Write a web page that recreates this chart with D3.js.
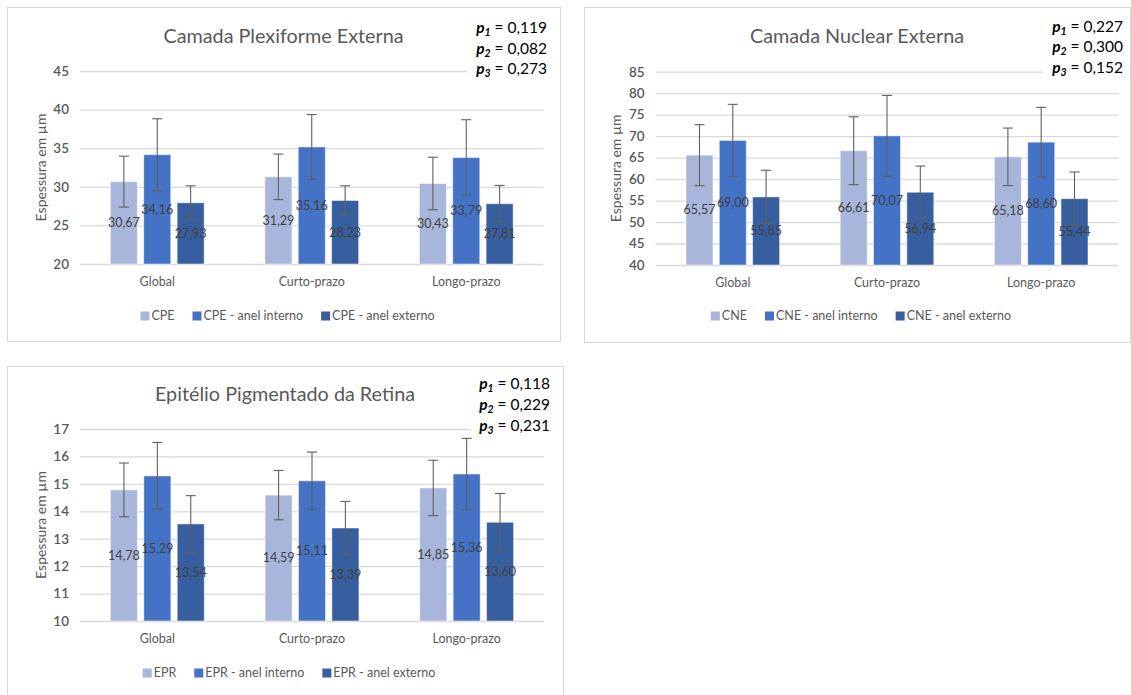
<!DOCTYPE html>
<html>
<head>
<meta charset="utf-8">
<script src="https://cdn.jsdelivr.net/npm/d3@7"></script>
<style>
  body { margin: 0; background: #fff; }
  text { font-family: Lato, "Noto Sans", sans-serif; }
</style>
</head>
<body>
<div id="host"></div>
<script>
// Data
const categories = ["Global", "Curto-prazo", "Longo-prazo"];

const cpeSeries = ["CPE", "CPE - anel interno", "CPE - anel externo"];
const cpeMeans  = [[30.67, 31.29, 30.43], [34.16, 35.16, 33.79], [27.93, 28.23, 27.81]];
const cpeSd     = [[3.30, 2.95, 3.40], [4.65, 4.20, 4.90], [2.20, 1.90, 2.37]];
const cpeTicks  = [20, 25, 30, 35, 40, 45];
const cpeP      = ["0,119", "0,082", "0,273"];

const cneSeries = ["CNE", "CNE - anel interno", "CNE - anel externo"];
const cneMeans  = [[65.57, 66.61, 65.18], [69.00, 70.07, 68.60], [55.85, 56.94, 55.44]];
const cneSd     = [[7.10, 7.90, 6.70], [8.40, 9.40, 8.10], [6.20, 6.10, 6.20]];
const cneTicks  = [40, 45, 50, 55, 60, 65, 70, 75, 80, 85];
const cneP      = ["0,227", "0,300", "0,152"];

const eprSeries = ["EPR", "EPR - anel interno", "EPR - anel externo"];
const eprMeans  = [[14.78, 14.59, 14.85], [15.29, 15.11, 15.36], [13.54, 13.39, 13.60]];
const eprSd     = [[0.98, 0.90, 1.01], [1.22, 1.05, 1.30], [1.03, 0.97, 1.05]];
const eprTicks  = [10, 11, 12, 13, 14, 15, 16, 17];
const eprP      = ["0,118", "0,229", "0,231"];

const seriesColors = ["#A9B6DB", "#4472C4", "#375E9F"];
const ptFormat = d3.formatLocale({decimal: ",", thousands: ".", grouping: [3], currency: ["", ""]}).format(".2f");

const svg = d3.select("#host").append("svg")
  .attr("width", 1131)
  .attr("height", 695);

svg.append("rect").attr("width", 1131).attr("height", 695).attr("fill", "#fff");

function drawPanel(cfg)
{
  const g = svg.append("g");

  // Panel frame
  g.append("rect")
    .attr("x", cfg.box[0] + 0.5).attr("y", cfg.box[1] + 0.5)
    .attr("width", cfg.box[2]).attr("height", cfg.box[3])
    .attr("fill", "#fff").attr("stroke", "#D9D9D9");

  const [left, top, right, bottom] = cfg.plot;
  const panelCx = cfg.box[0] + cfg.box[2] / 2;

  const y = d3.scaleLinear()
    .domain([cfg.ticks[0], cfg.ticks[cfg.ticks.length - 1]])
    .range([bottom, top]);

  const x0 = d3.scaleBand().domain(categories).range([left, right]);
  const groupW = x0.bandwidth() * 0.607;
  const x1 = d3.scaleBand().domain(cfg.series).range([0, groupW]).paddingInner(0.19);
  const groupOffset = (x0.bandwidth() - groupW) / 2;

  // Gridlines + y labels
  const yAxis = g.append("g")
    .attr("transform", `translate(${left},0)`)
    .call(d3.axisLeft(y).tickValues(cfg.ticks).tickFormat(d3.format("d"))
      .tickSize(-(right - left)).tickPadding(11));
  yAxis.select(".domain").remove();
  yAxis.selectAll("line").attr("stroke", "#D9D9D9").attr("stroke-width", 1.3);
  yAxis.selectAll("text").attr("fill", "#595959").attr("font-size", 13.5).attr("font-weight", 600);

  // Category labels
  const xAxis = g.append("g")
    .attr("transform", `translate(0,${bottom})`)
    .call(d3.axisBottom(x0).tickSize(0).tickPadding(13));
  xAxis.select(".domain").remove();
  xAxis.selectAll("text").attr("fill", "#595959").attr("font-size", 12.5);

  // Bars
  const rows = [];
  cfg.series.forEach((s, si) => categories.forEach((c, ci) =>
    rows.push({series: s, si: si, cat: c, v: cfg.means[si][ci], sd: cfg.sd[si][ci]})));

  const bx = d => x0(d.cat) + groupOffset + x1(d.series);

  g.append("g").selectAll("rect").data(rows).join("rect")
    .attr("x", bx)
    .attr("y", d => y(d.v))
    .attr("width", x1.bandwidth())
    .attr("height", d => bottom - y(d.v))
    .attr("fill", d => seriesColors[d.si])
    .attr("stroke", "#fff").attr("stroke-opacity", 0.5).attr("stroke-width", 1);

  // Error bars
  const eb = g.append("g").attr("stroke", "#606060").attr("stroke-width", 1.1);
  rows.forEach(d =>
  {
    const cx = bx(d) + x1.bandwidth() / 2;
    const y1 = y(d.v + d.sd), y2 = y(d.v - d.sd);
    eb.append("line").attr("x1", cx).attr("x2", cx).attr("y1", y1).attr("y2", y2);
    eb.append("line").attr("x1", cx - 5).attr("x2", cx + 5).attr("y1", y1).attr("y2", y1);
    eb.append("line").attr("x1", cx - 5).attr("x2", cx + 5).attr("y1", y2).attr("y2", y2);
  });

  // Data labels, centred on the visible bar
  g.append("g").selectAll("text").data(rows).join("text")
    .attr("x", d => bx(d) + x1.bandwidth() / 2)
    .attr("y", d => (y(d.v) + bottom) / 2)
    .attr("dy", "0.35em")
    .attr("text-anchor", "middle")
    .attr("font-size", 12.5)
    .attr("fill", "#404040")
    .text(d => ptFormat(d.v));

  // Title
  g.append("text")
    .attr("x", panelCx).attr("y", cfg.titleY)
    .attr("text-anchor", "middle")
    .attr("font-size", 19.8)
    .attr("fill", "#595959")
    .text(cfg.title);

  // Y axis title
  g.append("text")
    .attr("transform", `translate(${cfg.yTitleX},${(top + bottom) / 2}) rotate(-90)`)
    .attr("text-anchor", "middle")
    .attr("dy", "0.35em")
    .attr("font-size", 14)
    .attr("fill", "#595959")
    .text("Espessura em µm");

  // p values box (hides end of top gridline)
  g.append("rect")
    .attr("x", cfg.pRight - 80).attr("y", cfg.pY[0] - 16)
    .attr("width", 84).attr("height", cfg.pY[2] - cfg.pY[0] + 24)
    .attr("fill", "#fff");
  cfg.pvals.forEach((p, i) =>
  {
    const t = g.append("text")
      .attr("x", cfg.pRight).attr("y", cfg.pY[i] + 5)
      .attr("text-anchor", "end")
      .attr("font-size", 15.5)
      .attr("fill", "#000");
    t.append("tspan").attr("font-style", "italic").attr("font-weight", 700).text("p");
    t.append("tspan").attr("font-style", "italic").attr("font-weight", 700)
      .attr("font-size", 10.5).attr("dy", 3).text(i + 1);
    t.append("tspan").attr("dy", -3).text(" = " + p);
  });

  // Legend
  const leg = g.append("g");
  let cursor = 0;
  cfg.series.forEach((s, si) =>
  {
    const item = leg.append("g").attr("transform", `translate(${cursor},0)`);
    item.append("rect").attr("x", 0).attr("y", -4.5).attr("width", 9).attr("height", 9).attr("fill", seriesColors[si]);
    const t = item.append("text").attr("x", 11).attr("dy", "0.35em")
      .attr("font-size", 12.5).attr("fill", "#595959").text(s);
    cursor += 11 + t.node().getComputedTextLength() + 18;
  });
  const legW = cursor - 18;
  leg.attr("transform", `translate(${panelCx + 4 - legW / 2},${cfg.legendY})`);
}

drawPanel({
  box: [7, 7, 553, 334], plot: [80, 71, 543.5, 264],
  title: "Camada Plexiforme Externa", titleY: 42.5, yTitleX: 41,
  series: cpeSeries, means: cpeMeans, sd: cpeSd, ticks: cpeTicks, pvals: cpeP,
  pRight: 547, pY: [27.5, 48.5, 69], legendY: 316
});

drawPanel({
  box: [584, 7, 546, 335], plot: [655.7, 71.7, 1118.3, 265],
  title: "Camada Nuclear Externa", titleY: 42.5, yTitleX: 616,
  series: cneSeries, means: cneMeans, sd: cneSd, ticks: cneTicks, pvals: cneP,
  pRight: 1123, pY: [26.7, 47, 67.7], legendY: 316
});

drawPanel({
  box: [7, 366, 556, 335], plot: [80, 429, 544, 621],
  title: "Epitélio Pigmentado da Retina", titleY: 400.5, yTitleX: 41,
  series: eprSeries, means: eprMeans, sd: eprSd, ticks: eprTicks, pvals: eprP,
  pRight: 550, pY: [384, 405, 426], legendY: 673
});
</script>
</body>
</html>
